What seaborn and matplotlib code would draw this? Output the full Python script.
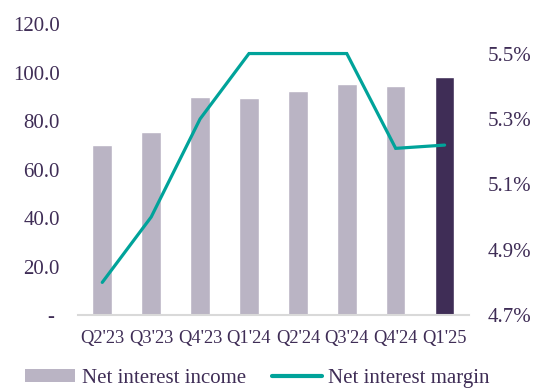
import matplotlib
matplotlib.use("Agg")
import matplotlib.pyplot as plt
import matplotlib.ticker as mticker
from matplotlib.patches import Patch
from matplotlib.lines import Line2D
import numpy as np
import pandas as pd
import seaborn as sns

quarters = ["Q2'23", "Q3'23", "Q4'23", "Q1'24", "Q2'24", "Q3'24", "Q4'24", "Q1'25"]
nii = [70.0, 75.5, 90.0, 89.5, 92.5, 95.5, 94.5, 98.0]
nim = [4.80, 5.00, 5.30, 5.50, 5.50, 5.50, 5.21, 5.22]
left_ticks = [0, 20, 40, 60, 80, 100, 120]
right_ticks = [4.7, 4.9, 5.1, 5.3, 5.5]

TEXT = "#3F2D56"
BAR_LIGHT = "#BAB4C4"
BAR_DARK = "#3F2D56"
TEAL = "#00A39A"

sns.set_theme(style="white")
plt.rcParams["font.family"] = ["Liberation Serif", "DejaVu Serif"]
plt.rcParams["font.size"] = 15

fig = plt.figure(figsize=(5.33, 3.89), dpi=100)
ax = fig.add_axes([0.146, 0.19, 0.734, 0.748])

df = pd.DataFrame({"quarter": quarters, "nii": nii})
colors = [BAR_LIGHT] * (len(quarters) - 1) + [BAR_DARK]
sns.barplot(data=df, x="quarter", y="nii", hue="quarter", palette=colors,
            legend=False, width=0.4, ax=ax, saturation=1)
ax.set_ylim(0, 120)
ax.set_xlim(-0.5, len(quarters) - 0.5)
ax.set_yticks(left_ticks)
ax.yaxis.set_major_formatter(mticker.FuncFormatter(lambda v, p: "- " if v == 0 else f"{v:.1f}"))
ax.set_xlabel("")
ax.set_ylabel("")
for s in ["top", "right", "left"]:
    ax.spines[s].set_visible(False)
ax.spines["bottom"].set_color("#D9D9D9")
ax.spines["bottom"].set_linewidth(1.5)
ax.tick_params(axis="y", length=0, colors=TEXT, labelsize=15, pad=13)
ax.tick_params(axis="x", length=0, colors=TEXT, labelsize=13.3, pad=11)

ax2 = ax.twinx()
ldf = pd.DataFrame({"pos": np.arange(len(quarters)), "nim": nim})
sns.lineplot(data=ldf, x="pos", y="nim", ax=ax2, color=TEAL, linewidth=2.3,
             solid_capstyle="round", solid_joinstyle="miter")
ax2.set_ylim(4.7, 5.59)
ax2.set_yticks(right_ticks)
ax2.yaxis.set_major_formatter(mticker.FuncFormatter(lambda v, p: f"{v:.1f}%"))
ax2.set_ylabel("")
ax2.set_xlabel("")
for s in ["top", "right", "left", "bottom"]:
    ax2.spines[s].set_visible(False)
ax2.tick_params(axis="y", length=0, colors=TEXT, labelsize=15, pad=13.5)
ax2.set_xlim(-0.5, len(quarters) - 0.5)

handles = [Patch(facecolor=BAR_LIGHT, edgecolor="none"),
           Line2D([0], [0], color=TEAL, linewidth=3, solid_capstyle="round")]
fig.legend(handles, ["Net interest income", "Net interest margin"],
           loc="center", bbox_to_anchor=(0.483, 0.027), ncol=2, frameon=False,
           handlelength=2.4, handletextpad=0.3, columnspacing=1.25,
           fontsize=15, labelcolor=TEXT, handleheight=0.55)

fig.savefig("out.png", dpi=100)
